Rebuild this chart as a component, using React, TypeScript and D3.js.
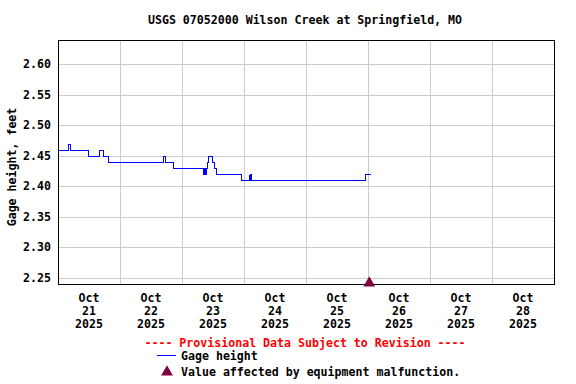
import React from "react";
import * as d3 from "d3";

const title = "USGS 07052000 Wilson Creek at Springfield, MO";
const yLabel = "Gage height, feet";
const yTicks = [2.25, 2.3, 2.35, 2.4, 2.45, 2.5, 2.55, 2.6];
const dayTicks = ["2025-10-21", "2025-10-22", "2025-10-23", "2025-10-24", "2025-10-25", "2025-10-26", "2025-10-27", "2025-10-28"];
const times = [
  "2025-10-21T00:00", "2025-10-21T04:00", "2025-10-21T04:30", "2025-10-21T11:45",
  "2025-10-21T16:00", "2025-10-21T17:30", "2025-10-21T19:30",
  "2025-10-22T16:45", "2025-10-22T17:15", "2025-10-22T20:30",
  "2025-10-23T08:15", "2025-10-23T08:30", "2025-10-23T08:45", "2025-10-23T09:15",
  "2025-10-23T09:45", "2025-10-23T10:15", "2025-10-23T11:45", "2025-10-23T12:30",
  "2025-10-23T13:15", "2025-10-23T22:45",
  "2025-10-24T01:45", "2025-10-24T02:00", "2025-10-24T02:15", "2025-10-24T02:45",
  "2025-10-25T23:00", "2025-10-26T00:45",
];
const values = [
  2.46, 2.47, 2.46, 2.45,
  2.46, 2.45, 2.44,
  2.45, 2.44, 2.43,
  2.42, 2.43, 2.42, 2.43,
  2.44, 2.45, 2.44, 2.43,
  2.42, 2.41,
  2.42, 2.41, 2.42, 2.41,
  2.42, 2.42,
];
const malfunctionTimes = ["2025-10-26T00:30"];

const legendProvisional = "---- Provisional Data Subject to Revision ----";
const legendSeries = "Gage height";
const legendMalfunction = "Value affected by equipment malfunction.";

const FONT = "'DejaVu Sans Mono', monospace";

export default function App() {
  const W = 576, H = 384;
  const left = 58, right = 554, top = 40, bottom = 284;
  const parse = d3.timeParse("%Y-%m-%dT%H:%M");
  const parseDay = d3.timeParse("%Y-%m-%d");
  const x = d3.scaleTime()
    .domain([parseDay("2025-10-21")!, parseDay("2025-10-29")!])
    .range([left, right]);
  const y = d3.scaleLinear().domain([2.24, 2.64]).range([bottom, top]);

  const data = times.map((t, i) => ({ t: parse(t)!, v: values[i] }));
  const line = d3.line<{ t: Date; v: number }>()
    .x(d => Math.round(x(d.t)) + 0.5)
    .y(d => Math.round(y(d.v)) + 0.5)
    .curve(d3.curveStepAfter);

  const days = dayTicks.map(d => parseDay(d)!);
  const fmtMon = d3.timeFormat("%b");
  const fmtDay = d3.timeFormat("%d");
  const fmtYear = d3.timeFormat("%Y");
  const tri = d3.symbol().type(d3.symbolTriangle).size(60)();

  return (
    <svg width={W} height={H} style={{ position: "absolute", left: 0, top: 0 }}>
      <rect x={0} y={0} width={W} height={H} fill="#fff" />
      <text x={305} y={24} textAnchor="middle" fontFamily={FONT} fontWeight="bold" fontSize={11.6}>{title}</text>
      {yTicks.map(v => (
        <g key={v}>
          <line x1={left} x2={right} y1={Math.round(y(v)) + 0.5} y2={Math.round(y(v)) + 0.5} stroke="#cccccc" />
          <text x={51} y={y(v) + 4} textAnchor="end" fontFamily={FONT} fontWeight="bold" fontSize={11.6}>{v.toFixed(2)}</text>
        </g>
      ))}
      {days.slice(1).map((d, i) => (
        <line key={i} x1={Math.round(x(d)) + 0.5} x2={Math.round(x(d)) + 0.5} y1={top} y2={bottom} stroke="#cccccc" />
      ))}
      {days.map((d, i) => {
        const cx = x(d3.timeHour.offset(d, 12));
        return (
          <text key={i} textAnchor="middle" fontFamily={FONT} fontWeight="bold" fontSize={11.6}>
            <tspan x={cx} y={302}>{fmtMon(d)}</tspan>
            <tspan x={cx} y={315}>{fmtDay(d)}</tspan>
            <tspan x={cx} y={328}>{fmtYear(d)}</tspan>
          </text>
        );
      })}
      <path d={line(data) ?? ""} fill="none" stroke="#0000ff" strokeWidth={1} shapeRendering="crispEdges" />
      <rect x={left + 0.5} y={top + 0.5} width={right - left} height={bottom - top} fill="none" stroke="#000" />
      {malfunctionTimes.map((t, i) => (
        <path key={i} d={tri} transform={`translate(${x(parse(t)!)},${bottom - 1})`} fill="#800040" />
      ))}
      <text transform={`translate(16,${(top + bottom) / 2 + 5}) rotate(-90)`} textAnchor="middle" fontFamily={FONT} fontWeight="bold" fontSize={11.6}>{yLabel}</text>
      <text x={305} y={347} textAnchor="middle" fontFamily={FONT} fontWeight="bold" fontSize={11.6} fill="#ff0000">{legendProvisional}</text>
      <line x1={157} x2={176} y1={355.5} y2={355.5} stroke="#0000ff" shapeRendering="crispEdges" />
      <text x={181} y={360} fontFamily={FONT} fontWeight="bold" fontSize={11.6}>{legendSeries}</text>
      <path d={tri} transform="translate(167,372)" fill="#800040" />
      <text x={181} y={376} fontFamily={FONT} fontWeight="bold" fontSize={11.6}>{legendMalfunction}</text>
    </svg>
  );
}
